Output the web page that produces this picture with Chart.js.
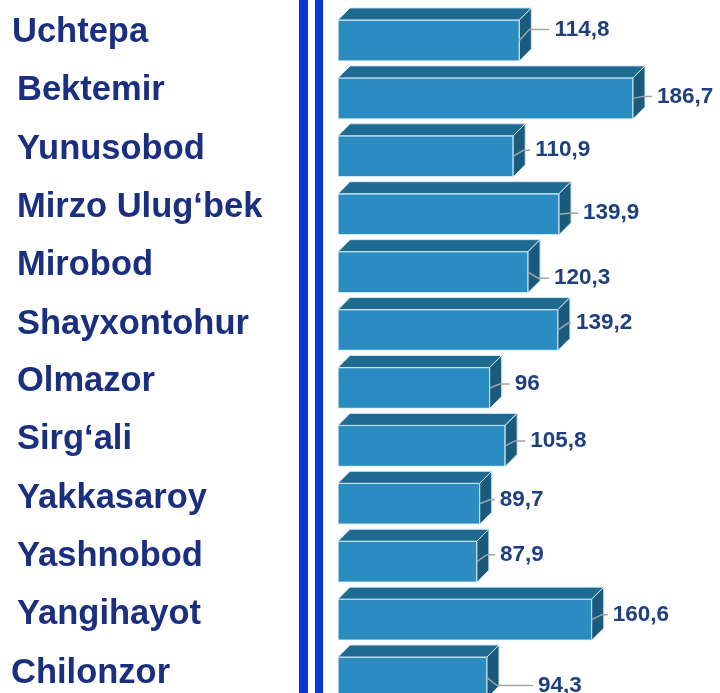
<!DOCTYPE html>
<html>
<head>
<meta charset="utf-8">
<script src="https://cdn.jsdelivr.net/npm/chart.js@4"></script>
<style>
  html, body { margin: 0; padding: 0; background: #fff; overflow: hidden; }
  .wrap { position: relative; width: 720px; height: 710px; }
</style>
</head>
<body>
<div class="wrap"><canvas id="barChart"></canvas></div>
<script>
const tumanlar = ['Uchtepa', 'Bektemir', 'Yunusobod', 'Mirzo Ulug‘bek', 'Mirobod', 'Shayxontohur',
  'Olmazor', 'Sirg‘ali', 'Yakkasaroy', 'Yashnobod', 'Yangihayot', 'Chilonzor'];
const qiymatlar = [114.8, 186.7, 110.9, 139.9, 120.3, 139.2, 96, 105.8, 89.7, 87.9, 160.6, 94.3];
const xMax = 240;

// joylashuv: nom chap chekkasi va balandlik siljishi, qiymat yorlig'ining siljishi [dx, dy]
const nomX = [12, 17, 17, 17, 17, 17, 17, 17, 17, 17, 17, 11];
const nomDy = [-8, -8, -7, -7, -7, -6, -6, -6, -5, -5, -5, -4];
const yorliqSiljish = [[35, -11], [24, -2], [22, -6], [24, -1], [26, 6], [18, -7],
  [25, -4], [25, -5], [20, -4], [23, -7], [21, -5], [51, 8]];

const CHUQUR = 12;
const RANG = {
  old: '#2a8cc0',
  tepa: '#1f6a90',
  yon: '#1a5b7d',
  chegara: '#cde6f3',
  chiziq: '#0a38d8',
  nom: '#1b2f80',
  qiymat: '#1f3f7f',
  ulagich: '#a3a3a3',
};

function fmt(v) {
  return String(v).replace('.', ',');
}

// ikki qator ko'k ajratuvchi chiziq
const ajratuvchi = {
  id: 'ajratuvchi',
  beforeDraw(chart) {
    const { ctx, chartArea } = chart;
    ctx.save();
    ctx.fillStyle = RANG.chiziq;
    ctx.fillRect(chartArea.left - 39, 0, 9, chart.height);
    ctx.fillRect(chartArea.left - 23, 0, 8, chart.height);
    ctx.restore();
  },
};

// ustunlarning tepa va yon yuzalari, nomlar va qiymatlar
const hajmli = {
  id: 'hajmli',
  afterDatasetsDraw(chart) {
    const { ctx } = chart;
    const meta = chart.getDatasetMeta(0);
    ctx.save();
    meta.data.forEach((bar, i) => {
      const x = bar.x, base = bar.base;
      const t = bar.y - bar.height / 2, b = bar.y + bar.height / 2;
      const d = CHUQUR;

      ctx.lineWidth = 1;
      ctx.strokeStyle = RANG.chegara;

      ctx.beginPath();
      ctx.moveTo(base, t);
      ctx.lineTo(base + d, t - d);
      ctx.lineTo(x + d, t - d);
      ctx.lineTo(x, t);
      ctx.closePath();
      ctx.fillStyle = RANG.tepa;
      ctx.fill();
      ctx.stroke();

      ctx.beginPath();
      ctx.moveTo(x, t);
      ctx.lineTo(x + d, t - d);
      ctx.lineTo(x + d, b - d);
      ctx.lineTo(x, b);
      ctx.closePath();
      ctx.fillStyle = RANG.yon;
      ctx.fill();
      ctx.stroke();

      // qiymat yorlig'i va ulagich chiziq
      const [dx, dy] = yorliqSiljish[i];
      const lx = x + dx, ly = bar.y + dy;
      ctx.beginPath();
      ctx.strokeStyle = RANG.ulagich;
      ctx.lineWidth = 1.5;
      ctx.moveTo(x, bar.y);
      ctx.lineTo(x + d - 2, ly);
      ctx.lineTo(lx - 5, ly);
      ctx.stroke();

      ctx.fillStyle = RANG.qiymat;
      ctx.font = 'bold 22.5px "Liberation Sans", Arial, sans-serif';
      ctx.textAlign = 'left';
      ctx.textBaseline = 'middle';
      ctx.fillText(fmt(qiymatlar[i]), lx, ly);

      ctx.fillStyle = RANG.nom;
      ctx.font = 'bold 34.5px "Liberation Sans", Arial, sans-serif';
      ctx.fillText(chart.data.labels[i], nomX[i], bar.y + nomDy[i]);
    });
    ctx.restore();
  },
};

new Chart(document.getElementById('barChart').getContext('2d'), {
  type: 'bar',
  data: {
    labels: tumanlar,
    datasets: [{
      data: qiymatlar,
      backgroundColor: RANG.old,
      borderColor: RANG.chegara,
      borderWidth: 1,
      borderSkipped: false,
      barThickness: 41,
    }],
  },
  options: {
    indexAxis: 'y',
    responsive: true,
    maintainAspectRatio: false,
    animation: false,
    layout: { padding: { left: 338, right: 2.8, top: 11.5, bottom: 3.5 } },
    scales: {
      x: { display: false, min: 0, max: xMax },
      y: { display: false },
    },
    plugins: {
      legend: { display: false },
      tooltip: { enabled: false },
    },
  },
  plugins: [ajratuvchi, hajmli],
});
</script>
</body>
</html>
